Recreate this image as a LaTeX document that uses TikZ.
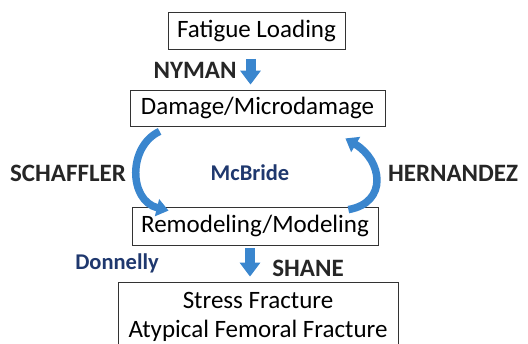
\documentclass[tikz,border=0pt]{standalone}
\usepackage{fontspec}
\setmainfont{Carlito}
\usetikzlibrary{positioning,calc,arrows.meta}
\definecolor{arrowBlue}{RGB}{58,134,206}
\definecolor{refNavy}{RGB}{31,56,110}

\begin{document}
\begin{tikzpicture}[x=1pt,y=-1pt,every text node part/.style={align=center}]
\tikzset{myFont/.style={font=\fontsize{25}{29}\selectfont}}
\tikzset{myBox/.style={draw=black!80,line width=0.8pt,myFont,inner sep=0pt}}
\tikzset{myName/.style={font=\fontsize{25}{28}\selectfont\bfseries,text=black!85}}
\tikzset{myRef/.style={font=\fontsize{22.5}{26}\selectfont\bfseries,text=refNavy}}
\tikzset{myArrow/.style={draw=arrowBlue,line width=10pt,-{Triangle[width=20pt,length=14pt]}}}
\tikzset{myCurve/.style={draw=arrowBlue,line width=7.5pt,-{Triangle[width=17pt,length=12pt]}}}

\useasboundingbox (0,0) rectangle (528,344);

\node[myBox,minimum width=177pt,minimum height=37pt] (fatigue) at (256.5,31) {Fatigue Loading};
\node[myBox,minimum width=255pt,minimum height=36pt] (damage) at (257.5,108) {Damage/Microdamage};
\node[myBox,minimum width=246pt,minimum height=38pt] (remodel) at (255,226) {Remodeling/Modeling};
\node[myBox,minimum width=280pt,minimum height=70pt] (fracture) at (258,317) {Stress Fracture\\Atypical Femoral Fracture};

% straight arrows
\path[myArrow,shorten <=9pt,shorten >=5pt] ([xshift=-6pt]fatigue.south) -- ([xshift=-7pt]damage.north);
\path[myArrow,shorten <=3pt,shorten >=5pt] ([xshift=-5pt]remodel.south) -- ([xshift=-8pt]fracture.north);

% remodeling loop
\path[myCurve] ($(damage.south west)+(30,5)$) .. controls +(-32,15) and +(-40,-10) .. ($(remodel.north west)+(37,4)$);
\path[myCurve] ($(remodel.north east)+(-30,3)$) .. controls +(40,-7) and +(37,22) .. ($(damage.south east)+(-40,12)$);

% names
\node[myName] (nyman) at (195,70) {NYMAN};
\node[myName] (schaffler) at (68,173) {SCHAFFLER};
\node[myName] (hernandez) at (453,173) {HERNANDEZ};
\node[myName] (shane) at (308,268) {SHANE};
\node[myRef] (mcbride) at (250,173) {McBride};
\node[myRef] (donnelly) at (117,263) {Donnelly};
\end{tikzpicture}
\end{document}
